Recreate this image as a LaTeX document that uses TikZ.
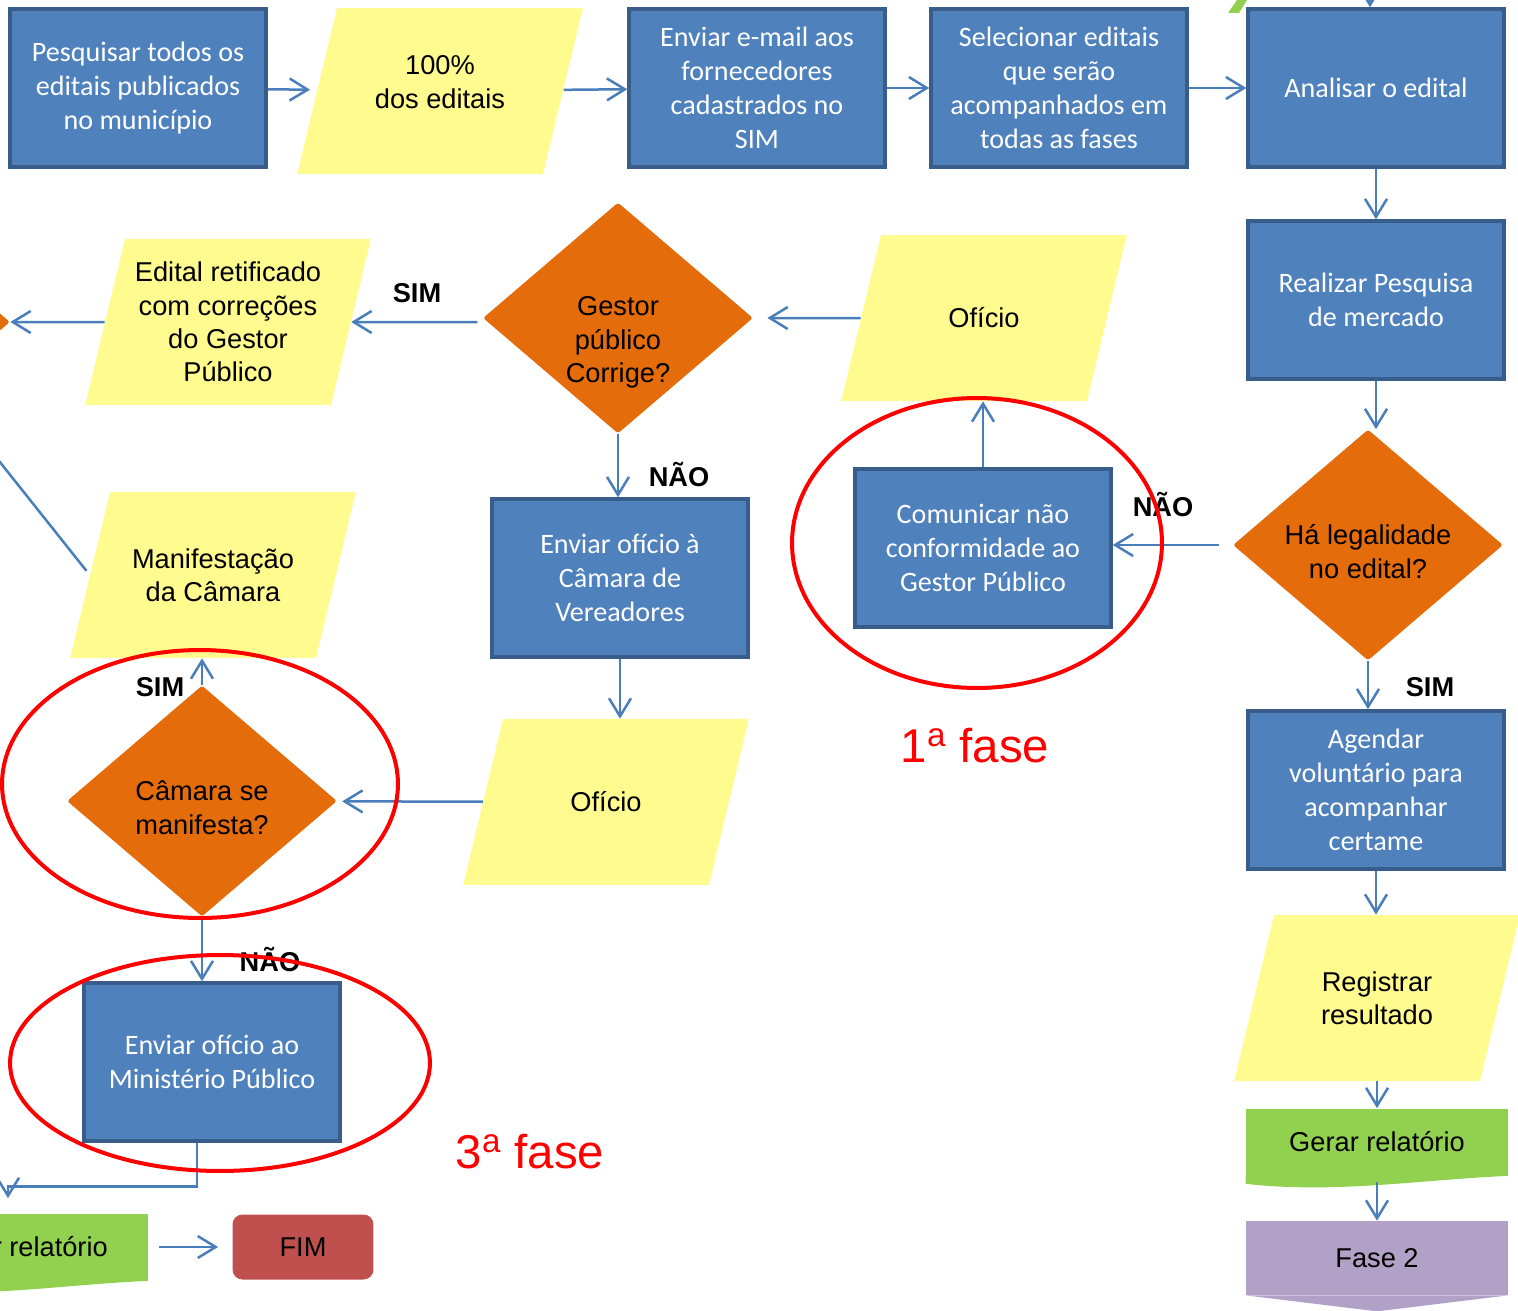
\documentclass[tikz,border=0pt]{standalone}
\usepackage{fontspec}
\setmainfont{Liberation Sans}
\newfontfamily\calib{Carlito}
\usetikzlibrary{arrows.meta,shapes.geometric}

\definecolor{boxblue}{HTML}{4F81BD}
\definecolor{boxedge}{HTML}{385D8A}
\definecolor{note}{HTML}{FFFB8F}
\definecolor{decide}{HTML}{E46C0A}
\definecolor{leaf}{HTML}{92D050}
\definecolor{stopred}{HTML}{C0504D}
\definecolor{phase2}{HTML}{B2A1C7}
\definecolor{flow}{HTML}{4A7EBB}

% fixed-size body for the slanted data shapes
\newcommand{\slab}[1]{\parbox[c][3.32cm][c]{4.12cm}{\centering #1}}
% diamond text, nudged down
\newcommand{\dropbox}[2]{\raisebox{#1}[0pt][0pt]{\begin{tabular}{@{}c@{}}#2\end{tabular}}}

\begin{document}
\begin{tikzpicture}[
		x=0.02cm, y=-0.02cm,
		task/.style={draw=boxedge, line width=0.07cm, fill=boxblue, minimum width=5.12cm, minimum height=3.16cm, inner sep=2pt, align=center, text=white, font=\calib\fontsize{16}{19.4}\selectfont},
		datum/.style={trapezium, trapezium left angle=76.5, trapezium right angle=103.5, trapezium stretches body, fill=note, inner sep=0pt, font=\fontsize{15.5}{19}\selectfont},
		choice/.style={diamond, fill=decide, minimum width=5.4cm, minimum height=4.62cm, inner sep=0pt, rounded corners=1.5pt, font=\fontsize{15.5}{19}\selectfont},
		report/.style={fill=leaf, minimum width=5.24cm, minimum height=1.34cm, inner sep=0pt, font=\fontsize{15.5}{19}\selectfont},
		arr/.style={draw=flow, line width=0.05cm, -{Straight Barb[length=0.36cm, width=0.44cm]}},
		lbl/.style={font=\bfseries\fontsize{15.5}{18}\selectfont},
		ring/.style={draw=red, line width=0.08cm},
		phase/.style={text=red, font=\fontsize{27}{30}\selectfont}
	]
		\useasboundingbox (0,0) rectangle (1518,1311);
		\clip (0,0) rectangle (1518,1311);
		% top row
		\node[task] (b1) at (138,88) {Pesquisar todos os\\editais publicados\\no município};
		\node[datum] (p1) at (440,91) {\slab{100\%\\dos editais\\[0.35cm]}};
		\node[task] (b2) at (757,88) {Enviar e-mail aos\\fornecedores\\cadastrados no\\SIM};
		\node[task] (b3) at (1059,88) {Selecionar editais\\que serão\\acompanhados em\\todas as fases};
		\node[task] (b4) at (1376,88) {Analisar o edital};
		% right column
		\node[task] (b5) at (1376,300) {Realizar Pesquisa\\de mercado};
		\node[choice] (d1) at (1368,545) {\dropbox{-0.32cm}{Há legalidade\\no edital?}};
		\node[task] (b6) at (1376,790) {Agendar\\voluntário para\\acompanhar\\certame};
		\node[datum] (p2) at (1377,998) {\slab{Registrar\\resultado}};
		\node[report] (g1) at (1377,1142) {Gerar relatório};
		\node[fill=phase2, minimum width=5.24cm, minimum height=1.48cm, inner sep=0pt, font=\fontsize{15.5}{19}\selectfont] (f2) at (1377,1258) {Fase 2};
		% middle
		\node[task] (b7) at (983,548) {Comunicar não\\conformidade ao\\Gestor Público};
		\node[datum] (p3) at (984,318) {\slab{Ofício}};
		\node[choice] (d2) at (618,318) {\dropbox{-0.62cm}{Gestor\\público\\Corrige?}};
		\node[datum] (p4) at (228,322) {\slab{Edital retificado\\com correções\\do Gestor\\Público}};
		\node[choice] (d0) at (-125,322) {};
		\node[task] (b8) at (620,578) {Enviar ofício à\\Câmara de\\Vereadores};
		\node[datum] (p5) at (606,802) {\slab{Ofício}};
		\node[choice] (d3) at (202,801) {\dropbox{-0.32cm}{Câmara se\\manifesta?}};
		\node[datum] (p6) at (213,575) {\slab{Manifestação\\da Câmara}};
		\node[task] (b9) at (212,1062) {Enviar ofício ao\\Ministério Público};
		\node[report, minimum width=5.12cm] (g2) at (20,1247) {Gerar relatório};
		\node[fill=stopred, rounded corners=0.2cm, minimum width=2.82cm, minimum height=1.3cm, font=\fontsize{15.5}{19}\selectfont] (fim) at (303,1247) {FIM};
		% wavy bottoms and pointer
		\fill[leaf] (g1.south east) .. controls +(-90,4) and +(90,10) .. ([yshift=-0.16cm]g1.south west) -- (g1.south west) -- cycle;
		\fill[leaf] (g2.south east) .. controls +(-90,4) and +(90,10) .. ([yshift=-0.16cm]g2.south west) -- (g2.south west) -- cycle;
		\fill[phase2] (f2.south west) -- (f2.south east) -- ([yshift=-0.32cm]f2.south) -- cycle;
		\fill[leaf] (1228,13) -- (1237,0) -- (1247,0) -- (1239,13) -- cycle;
		% connectors
		\coordinate (top4) at (1370,-20);
		\coordinate (k2) at (-90,349);
		\draw[arr, shorten >=4pt] (b1) -- (p1);
		\draw[arr] (p1) -- (b2);
		\draw[arr] (b2) -- (b3);
		\draw[arr] (b3) -- (b4);
		\draw[arr] (top4) -- (top4 |- b4.north);
		\draw[arr] (b4.south) -- (b5.north);
		\draw[arr] (b5.south) -- (b5.south |- d1.north);
		\draw[arr, shorten <=8pt] (d1.west) -- (d1.west -| b7.east);
		\draw[arr] (d1.south) -- (d1.south |- b6.north);
		\draw[arr] (b6.south) -- (b6.south |- p2.north);
		\draw[arr] (p2.south) -- (p2.south |- g1.north);
		\draw[arr] ([yshift=-0.12cm]g1.south) -- (f2.north);
		\draw[arr] (b7.north) -- (b7.north |- p3.south);
		\draw[arr, shorten >=8pt] (p3) -- (d2);
		\draw[arr, shorten <=3pt] (d2.west |- p4) -- (p4);
		\draw[arr] (p4) -- (d0);
		\draw[arr] (d2.south) -- (d2.south |- b8.north);
		\draw[arr] (b8.south) -- (b8.south |- p5.north);
		\draw[arr, shorten >=3pt] (p5) -- (d3);
		\draw[arr] (d3.north) -- (d3.north |- p6.south);
		\draw[arr] (d3.south) -- (d3.south |- b9.north);
		\draw[arr, shorten >=0.3cm] ([xshift=-0.3cm]b9.south) -- ++(0,44) -| ([xshift=-0.24cm]g2.north);
		\draw[arr, shorten <=6pt, shorten >=8pt] (g2) -- (fim);
		\draw[arr, shorten <=3pt] (p6.west) -- (k2);
		% branch labels
		\node[lbl] (no1) at (1163,505) {NÃO};
		\node[lbl] (yes1) at (1430,687) {SIM};
		\node[lbl] (yes2) at (417,293) {SIM};
		\node[lbl] (no2) at (679,475) {NÃO};
		\node[lbl] (yes3) at (160,687) {SIM};
		\node[lbl] (no3) at (270,960) {NÃO};
		% phase marks
		\draw[ring] (977,543) ellipse [x radius=3.7cm, y radius=2.9cm];
		\draw[ring] (200,784) ellipse [x radius=3.96cm, y radius=2.68cm];
		\draw[ring] (220,1063) ellipse [x radius=4.2cm, y radius=2.16cm];
		\node[phase, anchor=base] (f1) at (975,762) {1\textsuperscript{a} fase};
		\node[phase, anchor=base east] (fb) at (8,905) {2\textsuperscript{a} fase};
		\node[phase, anchor=base] (f3) at (530,1168) {3\textsuperscript{a} fase};
	\end{tikzpicture}
\end{document}
